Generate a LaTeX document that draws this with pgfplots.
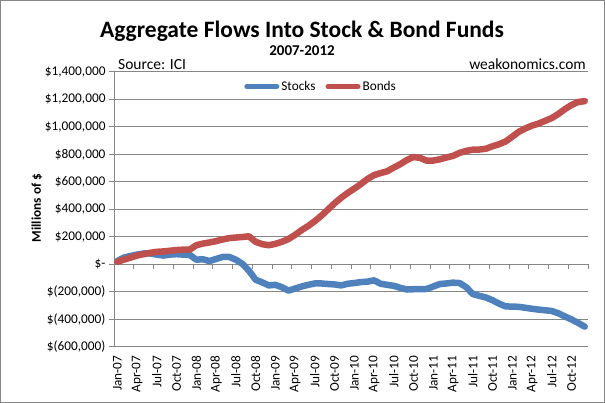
\documentclass[border=0pt]{standalone}
\usepackage{fontspec}
\setmainfont{Carlito}
\usepackage{pgfplots}
\pgfplotsset{compat=1.18}
\definecolor{xlblue}{HTML}{4F81BD}
\definecolor{xlred}{HTML}{C0504D}
\definecolor{xlgrid}{HTML}{868686}

% monthly cumulative flows, Jan-07 (0) to Dec-12 (71), millions of $
\pgfplotstableread{
m stocks bonds
0 25000 20000
1 50000 35000
2 62000 50000
3 72000 65000
4 80000 75000
5 80000 85000
6 72000 92000
7 65000 95000
8 72000 100000
9 75000 105000
10 72000 108000
11 70000 108000
12 35000 140000
13 38000 152000
14 25000 160000
15 40000 170000
16 55000 182000
17 55000 192000
18 35000 196000
19 5000 200000
20 -45000 205000
21 -110000 165000
22 -130000 148000
23 -152000 140000
24 -148000 150000
25 -165000 165000
26 -190000 185000
27 -175000 215000
28 -160000 250000
29 -148000 280000
30 -138000 315000
31 -138000 355000
32 -142000 400000
33 -145000 445000
34 -152000 485000
35 -140000 520000
36 -135000 552000
37 -128000 585000
38 -125000 622000
39 -115000 650000
40 -140000 665000
41 -148000 678000
42 -155000 705000
43 -170000 730000
44 -182000 760000
45 -180000 782000
46 -180000 775000
47 -178000 755000
48 -160000 756000
49 -142000 765000
50 -138000 778000
51 -132000 790000
52 -135000 812000
53 -165000 826000
54 -215000 835000
55 -228000 836000
56 -240000 842000
57 -260000 860000
58 -285000 875000
59 -305000 895000
60 -306000 930000
61 -308000 965000
62 -315000 990000
63 -322000 1010000
64 -328000 1025000
65 -333000 1045000
66 -338000 1065000
67 -355000 1095000
68 -378000 1130000
69 -400000 1160000
70 -425000 1182000
71 -452000 1188000
}\flows

\begin{document}
\begin{tikzpicture}
\useasboundingbox (0pt,0pt) rectangle (605pt,403pt);
\draw[xlgrid, line width=1pt] (0.5pt,0.5pt) rectangle (604.5pt,402.5pt);

\node[anchor=base, font=\fontsize{23.5}{28}\selectfont\bfseries] at (302pt,365pt) {Aggregate Flows Into Stock \& Bond Funds};
\node[anchor=base, font=\fontsize{15}{18}\selectfont\bfseries] at (302pt,347pt) {2007-2012};
\node[anchor=base west, inner sep=0pt, font=\fontsize{15.5}{18}\selectfont] at (118pt,333pt) {Source: ICI};
\node[anchor=base east, inner sep=0pt, font=\fontsize{15.5}{18}\selectfont] at (586pt,333pt) {weakonomics.com};
\node[rotate=90, font=\fontsize{13.3}{16}\selectfont\bfseries] at (37pt,195pt) {Millions of \$};

\begin{axis}[
  at={(114pt,56pt)}, anchor=south west,
  scale only axis,
  width=474pt, height=275pt,
  xmin=-0.5, xmax=71.5,
  ymin=-600000, ymax=1400000,
  scaled y ticks=false,
  axis x line*=bottom,
  axis y line*=left,
  axis line style={xlgrid, line width=1pt},
  xtick={0,3,...,69},
  xticklabels={Jan-07,Apr-07,Jul-07,Oct-07,Jan-08,Apr-08,Jul-08,Oct-08,Jan-09,Apr-09,Jul-09,Oct-09,Jan-10,Apr-10,Jul-10,Oct-10,Jan-11,Apr-11,Jul-11,Oct-11,Jan-12,Apr-12,Jul-12,Oct-12},
  xticklabel style={rotate=90, anchor=east, font=\fontsize{13.3}{16}\selectfont},
  xtick style={draw=none},
  ytick={-600000,-400000,...,1400000},
  yticklabels={{\$(600,000)},{\$(400,000)},{\$(200,000)},{\$-},{\$200,000},{\$400,000},{\$600,000},{\$800,000},{\$1,000,000},{\$1,200,000},{\$1,400,000}},
  yticklabel style={font=\fontsize{13.3}{16}\selectfont},
  ytick style={xlgrid, line width=1pt},
  tick align=outside,
  major tick length=5pt,
  ymajorgrids,
  grid style={xlgrid, line width=1pt},
  legend columns=2,
  legend style={at={(0.437,0.947)}, anchor=center, draw=none, fill=none,
    font=\fontsize{13.3}{16}\selectfont, inner sep=0pt,
    /tikz/every even column/.append style={column sep=8pt}},
  legend image code/.code={\draw[#1, line width=5pt, line cap=round] (0pt,0pt) -- (30pt,0pt);},
  clip=false,
]
\pgfplotsinvokeforeach{1,...,24}{
  \draw[xlgrid, line width=1pt] (axis cs:{3*#1-0.5},0) -- ++(0pt,-5pt);
}
\addplot[xlblue, line width=6.5pt, line join=round, line cap=round] table[x=m, y=stocks] {\flows};
\addlegendentry{Stocks}
\addplot[xlred, line width=6.5pt, line join=round, line cap=round] table[x=m, y=bonds] {\flows};
\addlegendentry{Bonds}
\end{axis}
\end{tikzpicture}
\end{document}
